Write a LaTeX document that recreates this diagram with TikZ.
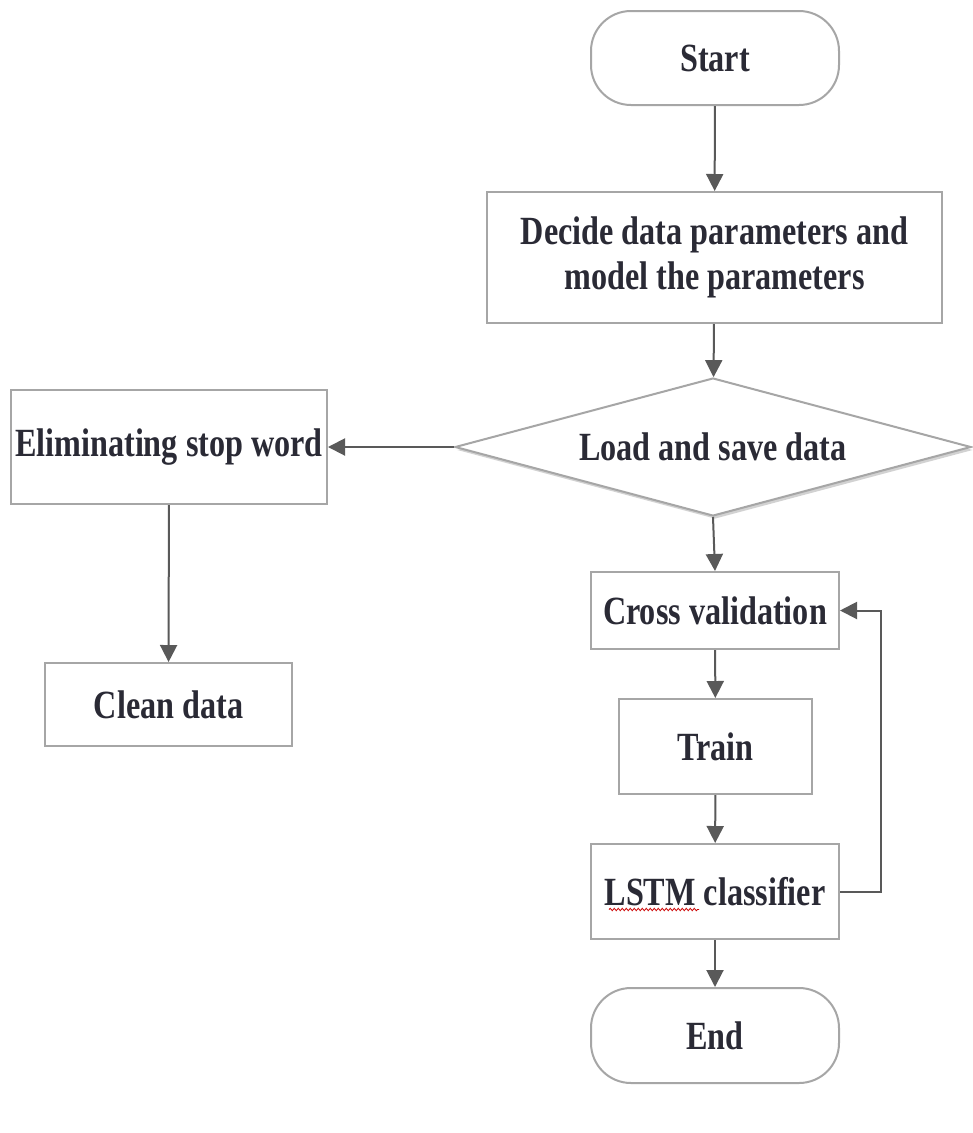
\documentclass[tikz,border=0pt]{standalone}
\usepackage{fontspec}
\newfontfamily\nodefont[FakeStretch=0.805]{Liberation Serif}
\usetikzlibrary{shapes.geometric,arrows.meta,shadows,decorations.pathmorphing}
\definecolor{boxline}{HTML}{A6A6A6}
\definecolor{arrowc}{HTML}{595959}
\definecolor{txt}{HTML}{2A2A35}
\begin{document}
\begin{tikzpicture}[x=1pt,y=-1pt,
  base/.style={draw=boxline, line width=2pt, fill=white, inner sep=0pt, align=center,
    text=txt, font=\nodefont\bfseries\fontsize{40}{45}\selectfont},
  procbox/.style={base, rectangle},
  pill/.style={base, rectangle, rounded corners=40pt},
  decision/.style={base, diamond, aspect=3.7, minimum width=516pt, minimum height=138pt,
    drop shadow={opacity=0.35, shadow xshift=2pt, shadow yshift=-3pt}},
  flow/.style={draw=arrowc, line width=2pt, -{Triangle[width=17pt,length=17pt]}, color=arrowc}
]
\useasboundingbox (0,0) rectangle (973,1133);
\fill[white] (0,0) rectangle (973,1133);

\node[pill, minimum width=248pt, minimum height=94pt] (start) at (715,58) {Start};
\node[procbox, minimum width=455pt, minimum height=131pt] (decide) at (714.5,257.5)
  {Decide data parameters and\\model the parameters};
\node[decision] (load) at (713,447) {Load and save data};
\node[procbox, minimum width=316pt, minimum height=114pt] (elim) at (169,447) {Eliminating stop word};
\node[procbox, minimum width=247pt, minimum height=83pt] (clean) at (168.5,704.5) {Clean data};
\node[procbox, minimum width=248pt, minimum height=77pt] (cross) at (715,610.5) {Cross validation};
\node[procbox, minimum width=193pt, minimum height=95pt] (train) at (715.5,746.5) {Train};
\node[procbox, minimum width=248pt, minimum height=95pt] (lstm) at (715,891.5) {LSTM classifier};
\node[pill, minimum width=248pt, minimum height=95pt] (end) at (715,1035.5) {End};

\draw[red!80!black, line width=0.8pt, decorate, decoration={snake, amplitude=1.2pt, segment length=4pt}]
  ([xshift=-106pt,yshift=-18pt]lstm.center) -- ([xshift=-16pt,yshift=-18pt]lstm.center);

\draw[flow] (start) -- (decide);
\draw[flow] (decide) -- (load);
\draw[flow] (load.west) -- (elim.east);
\draw[flow] (elim) -- (clean);
\draw[flow] (load.south) -- (cross.north);
\draw[flow] (cross) -- (train);
\draw[flow] (train) -- (lstm);
\draw[flow] (lstm) -- (end);
\draw[flow] (lstm.east) -- ++(41,0) |- (cross.east);
\end{tikzpicture}
\end{document}
